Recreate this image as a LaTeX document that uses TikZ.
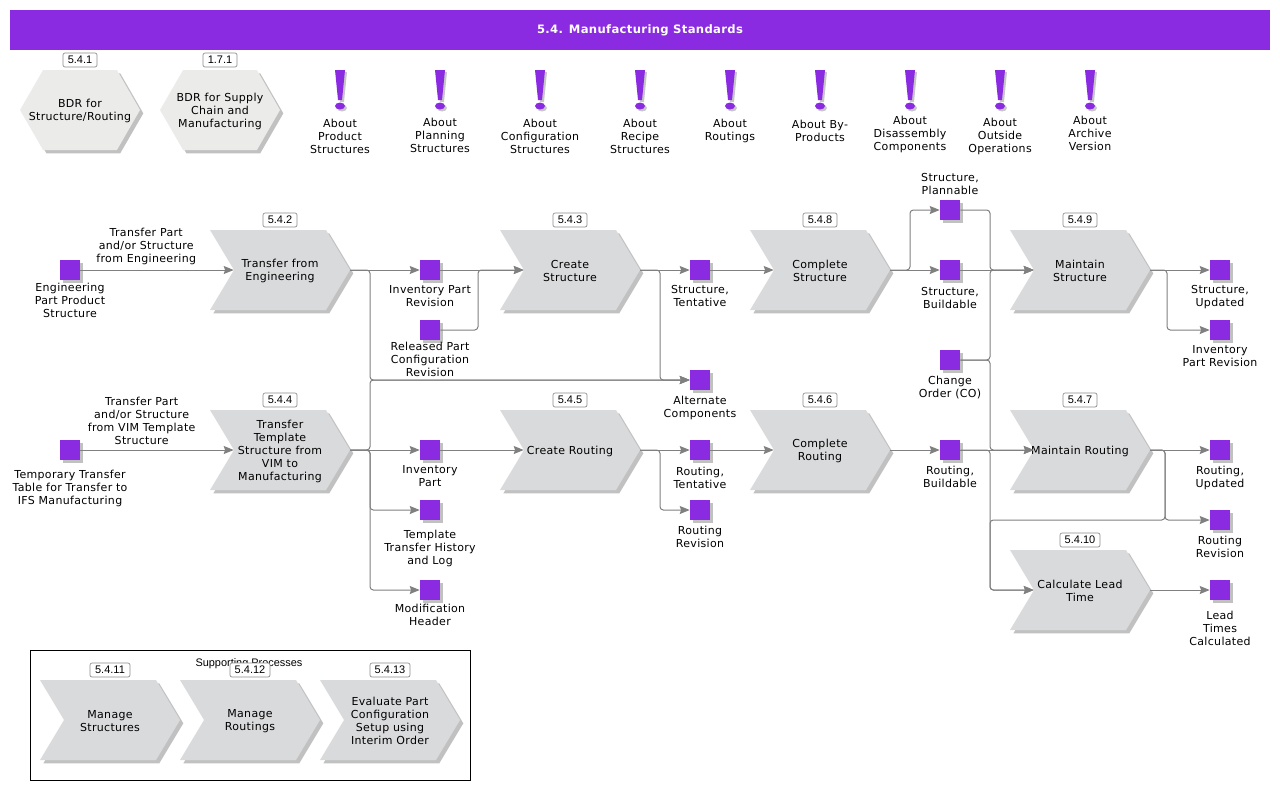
\documentclass[tikz,border=0pt]{standalone}
\usepackage{fontspec}
\setmainfont[LetterSpace=3]{DejaVu Sans}
\newfontfamily\tagfont{Liberation Sans}
\usetikzlibrary{shapes.symbols,shadows,arrows.meta}
\definecolor{violetbar}{HTML}{8A2BE2}
\definecolor{chevgray}{HTML}{D9DADC}
\definecolor{hexgray}{HTML}{EBEBEA}
\definecolor{linegray}{HTML}{808080}
\begin{document}
\begin{tikzpicture}[
	x=0.75pt,y=-0.75pt,
	shade/.style={general shadow={fill=black!30,shadow xshift=2.5pt,shadow yshift=-2.5pt,opacity=0.8}},
	process/.style={shape=signal,signal to=east,signal from=west,signal pointer angle=118,fill=chevgray,shade,
		minimum width=105pt,minimum height=60pt,inner sep=0pt},
	bdr/.style={shape=signal,signal to=east and west,signal pointer angle=120,fill=hexgray,shade,
		minimum width=90pt,minimum height=60pt,inner sep=0pt},
	square/.style={fill=violetbar,minimum size=15pt,inner sep=0pt,
		general shadow={fill=black!30,shadow xshift=2pt,shadow yshift=-2pt,opacity=0.8}},
	caption/.style={inner sep=0pt,align=center,font=\fontsize{8.25}{9.75}\selectfont},
	tagbox/.style={draw=black!45,fill=white,rounded corners=1.5pt,line width=0.5pt,minimum height=10.5pt,inner sep=0pt,
		font=\tagfont\fontsize{8.25}{9.75}\selectfont},
	link/.style={draw=linegray,line width=0.75pt,rounded corners=2.5pt},
	flow/.style={link,-{Stealth[length=7.5pt,width=6pt,inset=1pt]}},
	]
	\useasboundingbox (0,0) rectangle (1280,790);
	% title
	\node (title) [fill=violetbar,minimum width=945pt,minimum height=30pt,inner sep=0pt,text=white] at (640,30)
		{\raisebox{-0.75pt}{\fontsize{8.7}{10}\selectfont\bfseries 5.4. Manufacturing Standards}};
	% supporting box
	\node (support) [draw=black,line width=0.75pt,minimum width=330pt,minimum height=97.5pt,inner sep=0pt] at (250,715) {};
	\node (supporthead) [inner sep=0pt,font=\tagfont\fontsize{8.2}{9}\selectfont] at (249,664) {Supporting Processes};
	% hexagons
	\node (hStruct) [bdr] at (80,110) {};
	\node (hSupply) [bdr] at (220,110) {};
	\node (thStruct) [caption] at (80,111) {BDR for\\Structure/Routing};
	\node (thSupply) [caption] at (220,111) {BDR for Supply\\Chain and\\Manufacturing};
	% notes
	\foreach \n/\x/\y/\t in {
		aProd/340/136/{About\\Product\\Structures},
		aPlan/440/135/{About\\Planning\\Structures},
		aConf/540/136/{About\\Configuration\\Structures},
		aReci/640/136/{About\\Recipe\\Structures},
		aRout/730/130.5/{About\\Routings},
		aByPr/820/130.5/{About By-\\Products},
		aDisa/910/134/{About\\Disassembly\\Components},
		aOuts/1000/136/{About\\Outside\\Operations},
		aArch/1090/133/{About\\Archive\\Version}}{
		\fill [black!22] (\x-3,72) -- (\x+7,72) -- (\x+4,102) -- (\x,102) -- cycle;
		\fill [black!22] (\x+2,108) ellipse [x radius=3.75pt,y radius=2.6pt];
		\fill [violetbar] (\x-5,70) -- (\x+5,70) -- (\x+2,100) -- (\x-2,100) -- cycle;
		\fill [violetbar] (\x,106) ellipse [x radius=3.75pt,y radius=2.6pt];
		\node (\n) [caption] at (\x,\y) {\t};
	}
	% processes
	\foreach \n/\x/\y/\t in {
		cEng/280/270/{Transfer from\\Engineering},
		cVim/280/450/{Transfer\\Template\\Structure from\\VIM to\\Manufacturing},
		cStruct/570/270/{Create\\Structure},
		cRout/570/450/{Create Routing},
		cCompS/820/270/{Complete\\Structure},
		cCompR/820/450/{Complete\\Routing},
		cMainS/1080/270/{Maintain\\Structure},
		cMainR/1080/450/{Maintain Routing},
		cLead/1080/590/{Calculate Lead\\Time},
		cManS/110/720/{Manage\\Structures},
		cManR/250/720/{Manage\\Routings},
		cEval/390/720/{Evaluate Part\\Configuration\\Setup using\\Interim Order}}{
		\node (\n) [process] at (\x,\y) {};
		\node (t\n) [caption] at (\x,\y+1) {\t};
	}
	% tags
	\foreach \x/\y/\t in {80/60/5.4.1,220/60/1.7.1,280/220/5.4.2,570/220/5.4.3,820/220/5.4.8,1080/220/5.4.9,
		280/400/5.4.4,570/400/5.4.5,820/400/5.4.6,1080/400/5.4.7}{
		\node (tag\t) [tagbox,minimum width=25.5pt] at (\x,\y) {\t};
	}
	\foreach \x/\y/\t in {1080/540/5.4.10,110/670/5.4.11,250/670/5.4.12,390/670/5.4.13}{
		\node (tag\t) [tagbox,minimum width=30pt] at (\x,\y) {\t};
	}
	% information squares
	\foreach \n/\x/\y/\ty/\t in {
		sEng/70/270/300/{Engineering\\Part Product\\Structure},
		sTemp/70/450/488/{Temporary Transfer\\Table for Transfer to\\IFS Manufacturing},
		sInvRev/430/270/296/{Inventory Part\\Revision},
		sRel/430/330/359/{Released Part\\Configuration\\Revision},
		sInv/430/450/476.5/{Inventory\\Part},
		sHist/430/510/548/{Template\\Transfer History\\and Log},
		sMod/430/590/614.5/{Modification\\Header},
		sTent/700/270/295.5/{Structure,\\Tentative},
		sAlt/700/380/407.5/{Alternate\\Components},
		sRoutT/700/450/477.5/{Routing,\\Tentative},
		sRoutR/700/510/536.5/{Routing\\Revision},
		sPlan/950/210/183.5/{Structure,\\Plannable},
		sBuild/950/270/297.5/{Structure,\\Buildable},
		sCO/950/360/387.5/{Change\\Order (CO)},
		sRoutB/950/450/476.5/{Routing,\\Buildable},
		sUpd/1220/270/297.5/{Structure,\\Updated},
		sInvOut/1220/330/356.5/{Inventory\\Part Revision},
		sRoutU/1220/450/477.5/{Routing,\\Updated},
		sRevOut/1220/520/546.5/{Routing\\Revision},
		sTimes/1220/590/628/{Lead\\Times\\Calculated}}{
		\node (\n) [square] at (\x,\y) {};
		\node (l\n) [caption] at (\x,\ty) {\t};
	}
	% bends
	\coordinate (busAlt) at (370,380);
	\coordinate (busHist) at (370,510);
	\coordinate (busMod) at (370,590);
	\coordinate (busRel) at (478,330);
	\coordinate (busTent) at (660,380);
	\coordinate (busRoutR) at (660,510);
	\coordinate (busPlan) at (910,210);
	\coordinate (busS) at (990,270);
	\coordinate (busR) at (990,450);
	\coordinate (busLead) at (990,590);
	\coordinate (busOut) at (1167,330);
	\coordinate (busRev) at (1165,520);
	% connectors
	\draw [flow] (sEng) -- node [caption,above=3.5pt,pos=0.43] (lEngLink) {Transfer Part\\and/or Structure\\from Engineering} (cEng.west);
	\draw [flow] (sTemp) -- node [caption,above=3.5pt,pos=0.4] (lTempLink) {Transfer Part\\and/or Structure\\from VIM Template\\Structure} (cVim.west);
	\draw [flow] (cEng.east) -- (sInvRev);
	\draw [flow] (cEng.east) -| (busAlt) -- (sAlt);
	\draw [flow] (cVim.east) -| (busAlt) -- (sAlt);
	\draw [flow] (cVim.east) -- (sInv);
	\draw [flow] (cVim.east) -| (busHist) -- (sHist);
	\draw [flow] (cVim.east) -| (busMod) -- (sMod);
	\draw [flow] (sInvRev) -- (cStruct.west);
	\draw [flow] (sRel) -- (busRel) |- (cStruct.west);
	\draw [flow] (cStruct.east) -- (sTent);
	\draw [flow] (cStruct.east) -| (busTent) -- (sAlt);
	\draw [flow] (sTent) -- (cCompS.west);
	\draw [flow] (cCompS.east) -- (sBuild);
	\draw [flow] (cCompS.east) -| (busPlan) -- (sPlan);
	\draw [flow] (sPlan) -| (busS) -- (cMainS.west);
	\draw [flow] (sBuild) -- (cMainS.west);
	\draw [flow] (sCO) -| (busS) -- (cMainS.west);
	\draw [flow] (sCO) -| (busR) -- (cMainR.west);
	\draw [flow] (cMainS.east) -- (sUpd);
	\draw [flow] (cMainS.east) -| (busOut) -- (sInvOut);
	\draw [flow] (sInv) -- (cRout.west);
	\draw [flow] (cRout.east) -- (sRoutT);
	\draw [flow] (cRout.east) -| (busRoutR) -- (sRoutR);
	\draw [flow] (sRoutT) -- (cCompR.west);
	\draw [flow] (cCompR.east) -- (sRoutB);
	\draw [flow] (sRoutB) -- (cMainR.west);
	\draw [flow] (sRoutB) -| (busLead) -- (cLead.west);
	\draw [flow] (cMainR.east) -- (sRoutU);
	\draw [flow] (cMainR.east) -| (busRev) -- (sRevOut);
	\draw [flow] (cMainR.east) -| (busRev) -| (busLead) -- (cLead.west);
	\draw [flow] (cLead.east) -- (sTimes);
\end{tikzpicture}
\end{document}
